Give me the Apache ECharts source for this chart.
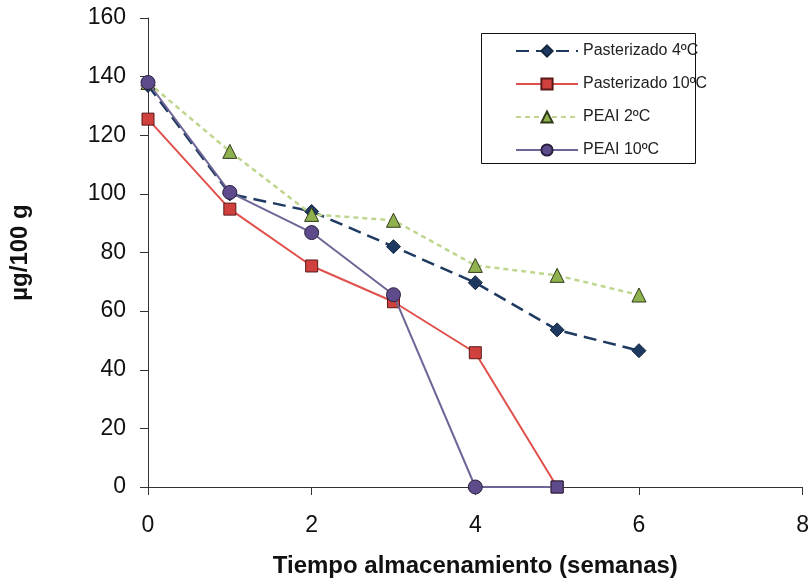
<!DOCTYPE html>
<html>
<head>
<meta charset="utf-8">
<script src="https://cdn.jsdelivr.net/npm/echarts@6/dist/echarts.min.js"></script>
<style>
  html, body { margin: 0; padding: 0; background: #ffffff; }
  #chart { width: 812px; height: 586px; }
</style>
</head>
<body>
<div id="chart"></div>
<script>
// Storage time in weeks and measured content (µg/100 g)
const weeksPast4 = [0, 1, 2, 3, 4, 5, 6];
const past4 = [137, 100, 94, 82, 69.7, 53.6, 46.5];

const weeksPast10 = [0, 1, 2, 3, 4, 5];
const past10 = [125.5, 94.8, 75.4, 63.2, 45.8, 0];

const weeksPeai2 = [0, 1, 2, 3, 4, 5, 6];
const peai2 = [138, 114.5, 93, 91, 75.6, 72.2, 65.5];

const weeksPeai10 = [0, 1, 2, 3, 4, 5];
const peai10 = [138, 100.5, 86.8, 65.6, 0, 0];

const seriesNames = ['Pasterizado 4ºC', 'Pasterizado 10ºC', 'PEAI 2ºC', 'PEAI 10ºC'];
const xTicks = [0, 2, 4, 6, 8];
const yTicks = [0, 20, 40, 60, 80, 100, 120, 140, 160];

const pairs = (xs, ys) => xs.map((x, i) => [x, ys[i]]);

const chart = echarts.init(document.getElementById('chart'), null, { renderer: 'canvas' });

const FONT = 'Liberation Sans, Arial, sans-serif';
const axisFont = { fontFamily: FONT, fontSize: 23, color: '#111' };
const titleFont = { fontFamily: FONT, fontSize: 24, fontWeight: 'bold', color: '#111' };

const option = {
  backgroundColor: '#ffffff',
  animation: false,
  grid: { left: 148, right: 7, top: 18, bottom: 99, containLabel: false },
  xAxis: {
    type: 'value',
    min: xTicks[0],
    max: xTicks[xTicks.length - 1],
    interval: 2,
    name: 'Tiempo almacenamiento (semanas)',
    nameLocation: 'middle',
    nameGap: 67,
    nameTextStyle: titleFont,
    axisLine: { show: true, onZero: false, lineStyle: { color: '#333', width: 1 } },
    axisTick: { show: true, inside: false, length: 8, lineStyle: { color: '#333' } },
    axisLabel: Object.assign({ margin: 27 }, axisFont),
    splitLine: { show: false }
  },
  yAxis: {
    type: 'value',
    min: yTicks[0],
    max: yTicks[yTicks.length - 1],
    interval: 20,
    name: 'µg/100 g',
    nameLocation: 'middle',
    nameGap: 116,
    nameTextStyle: titleFont,
    axisLine: { show: true, onZero: false, lineStyle: { color: '#333', width: 1 } },
    axisTick: { show: true, inside: false, length: 8, lineStyle: { color: '#333' } },
    axisLabel: Object.assign({ margin: 22 }, axisFont),
    splitLine: { show: false }
  },
  legend: {
    orient: 'vertical',
    left: 510,
    top: 36,
    itemWidth: 62,
    itemHeight: 14,
    itemGap: 13,
    data: seriesNames,
    textStyle: { fontFamily: FONT, fontSize: 16, color: '#222', lineHeight: 20 }
  },
  graphic: [{
    type: 'rect',
    left: 481, top: 33,
    shape: { width: 214, height: 130 },
    style: { fill: 'rgba(0,0,0,0)', stroke: '#111', lineWidth: 1 },
    z: 0
  }],
  series: [
    {
      name: seriesNames[0],
      type: 'line',
      data: pairs(weeksPast4, past4),
      symbol: 'diamond',
      symbolSize: 14,
      lineStyle: { color: '#1F3A60', width: 2.5, type: [13, 7] },
      itemStyle: { color: '#1F3A60', borderColor: '#14263F', borderWidth: 1 },
      z: 2
    },
    {
      name: seriesNames[1],
      type: 'line',
      data: pairs(weeksPast10, past10),
      symbol: 'rect',
      symbolSize: 12,
      lineStyle: { color: '#E0504C', width: 2 },
      itemStyle: { color: '#D0413E', borderColor: '#5A1A19', borderWidth: 1 },
      z: 3
    },
    {
      name: seriesNames[2],
      type: 'line',
      data: pairs(weeksPeai2, peai2),
      symbol: 'triangle',
      symbolSize: 14,
      lineStyle: { color: '#BFD68E', width: 2.5, type: [5, 4] },
      itemStyle: { color: '#8FB14E', borderColor: '#2F3A1A', borderWidth: 1 },
      z: 4
    },
    {
      name: seriesNames[3],
      type: 'line',
      data: pairs(weeksPeai10, peai10).map((p, i) =>
        i === weeksPeai10.length - 1 ? { value: p, symbol: 'rect', symbolSize: 12 } : p),
      symbol: 'circle',
      symbolSize: 14,
      lineStyle: { color: '#6E6596', width: 2 },
      itemStyle: { color: '#5E4B8C', borderColor: '#2A2140', borderWidth: 1 },
      z: 5
    }
  ]
};

chart.setOption(option);
</script>
</body>
</html>
